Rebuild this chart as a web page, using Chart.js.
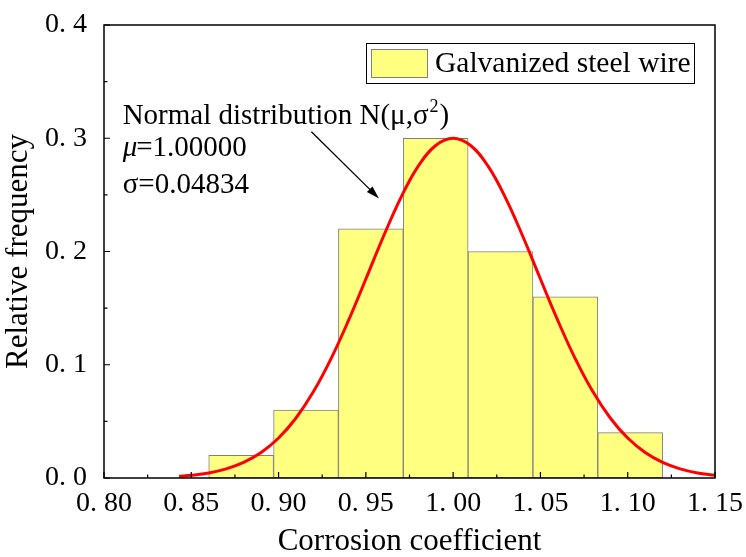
<!DOCTYPE html>
<html>
<head>
<meta charset="utf-8">
<script src="https://cdn.jsdelivr.net/npm/chart.js@4.4.0/dist/chart.umd.min.js"></script>
<style>
body { margin: 0; background: #fff; }
</style>
</head>
<body>
<canvas id="mainChart" width="746" height="557"></canvas>
<script>
var FONT = "'Liberation Serif', 'Times New Roman', serif";

// histogram: bin centres and relative frequency
var binCenters = [0.87857, 0.91571, 0.95286, 0.99, 1.02714, 1.06429, 1.10143];
var relFreq = [0.02, 0.06, 0.22, 0.30, 0.20, 0.16, 0.04];

// red normal curve
var curveX = [0.843, 0.85, 0.86, 0.87, 0.88, 0.89, 0.90, 0.91, 0.92, 0.93, 0.94, 0.95, 0.96, 0.97, 0.98, 0.99, 1.00,
              1.01, 1.02, 1.03, 1.04, 1.05, 1.06, 1.07, 1.08, 1.09, 1.10, 1.11, 1.12, 1.13, 1.14, 1.15];
var curveY = [0.0015, 0.0024, 0.0045, 0.0081, 0.0138, 0.0225, 0.0353, 0.0530, 0.0763, 0.1052, 0.1389, 0.1757, 0.2130, 0.2474, 0.2754, 0.2936, 0.3000,
              0.2936, 0.2754, 0.2474, 0.2130, 0.1757, 0.1389, 0.1052, 0.0763, 0.0530, 0.0353, 0.0225, 0.0138, 0.0081, 0.0045, 0.0024];

var seriesName = 'Galvanized steel wire';
var noteTitle = 'Normal distribution N(\u03bc,\u03c3';
var noteMu = '=1.00000';
var noteSigma = '\u03c3=0.04834';

// axis ticks: frame + inward major/minor ticks
var frameTicks = {
    id: 'frameTicks',
    afterDraw: function(chart) {
        var ctx = chart.ctx, a = chart.chartArea;
        var xs = chart.scales.x, ys = chart.scales.y;
        ctx.save();
        ctx.strokeStyle = '#000';
        ctx.lineWidth = 1.5;
        ctx.strokeRect(a.left, a.top, a.right - a.left, a.bottom - a.top);
        ctx.lineWidth = 1.2;
        ctx.beginPath();
        for (var v = 0.8; v <= 1.1501; v += 0.025) {
            var px = xs.getPixelForValue(v);
            var major = Math.abs(Math.round(v / 0.05) * 0.05 - v) < 1e-6;
            ctx.moveTo(px, a.bottom);
            ctx.lineTo(px, a.bottom - (major ? 6 : 3.5));
        }
        for (var w = 0; w <= 0.4001; w += 0.05) {
            var py = ys.getPixelForValue(w);
            var maj = Math.abs(Math.round(w / 0.1) * 0.1 - w) < 1e-6;
            ctx.moveTo(a.left, py);
            ctx.lineTo(a.left + (maj ? 6 : 3.5), py);
        }
        ctx.stroke();
        ctx.restore();
    }
};

// legend box inside the plot
var boxLegend = {
    id: 'boxLegend',
    afterDraw: function(chart) {
        var ctx = chart.ctx, a = chart.chartArea;
        var ds = chart.data.datasets[1];
        var right = a.right - 21, left = right - 328, top = 43, h = 40;
        ctx.save();
        ctx.fillStyle = '#fff';
        ctx.fillRect(left, top, right - left, h);
        ctx.strokeStyle = '#000';
        ctx.lineWidth = 1;
        ctx.strokeRect(left + 0.5, top + 0.5, right - left, h);
        ctx.fillStyle = ds.backgroundColor;
        ctx.fillRect(left + 5, top + 6, 56, 28);
        ctx.strokeStyle = ds.borderColor;
        ctx.strokeRect(left + 5.5, top + 6.5, 56, 28);
        ctx.fillStyle = '#000';
        ctx.font = '29.5px ' + FONT;
        ctx.textBaseline = 'middle';
        ctx.fillText(ds.label, left + 69, top + h / 2 + 1);
        ctx.restore();
    }
};

// fit note and arrow
var fitNote = {
    id: 'fitNote',
    afterDraw: function(chart) {
        var ctx = chart.ctx;
        var xs = chart.scales.x, ys = chart.scales.y;
        var x0 = xs.getPixelForValue(0.8107);
        ctx.save();
        ctx.fillStyle = '#000';
        ctx.textBaseline = 'alphabetic';
        ctx.font = '29px ' + FONT;
        var y1 = ys.getPixelForValue(0.3124);
        ctx.fillText(noteTitle, x0, y1);
        var w1 = ctx.measureText(noteTitle).width;
        ctx.font = '18px ' + FONT;
        ctx.fillText('2', x0 + w1 + 1, y1 - 12);
        var w2 = ctx.measureText('2').width;
        ctx.font = '29px ' + FONT;
        ctx.fillText(')', x0 + w1 + w2 + 2, y1);

        var y2 = ys.getPixelForValue(0.2843);
        ctx.font = 'italic 29px ' + FONT;
        ctx.fillText('\u03bc', x0, y2);
        var wm = ctx.measureText('\u03bc').width;
        ctx.font = '29px ' + FONT;
        ctx.fillText(noteMu, x0 + wm - 1, y2);

        var y3 = ys.getPixelForValue(0.2516);
        ctx.fillText(noteSigma, x0, y3);

        // arrow
        var ax = xs.getPixelForValue(0.9188), ay = ys.getPixelForValue(0.3057);
        var bx = xs.getPixelForValue(0.9575), by = ys.getPixelForValue(0.2469);
        var ang = Math.atan2(by - ay, bx - ax);
        ctx.strokeStyle = '#000';
        ctx.lineWidth = 1.3;
        ctx.beginPath();
        ctx.moveTo(ax, ay);
        ctx.lineTo(bx - 10 * Math.cos(ang), by - 10 * Math.sin(ang));
        ctx.stroke();
        ctx.beginPath();
        ctx.moveTo(bx, by);
        ctx.lineTo(bx - 13 * Math.cos(ang) + 4 * Math.sin(ang), by - 13 * Math.sin(ang) - 4 * Math.cos(ang));
        ctx.lineTo(bx - 13 * Math.cos(ang) - 4 * Math.sin(ang), by - 13 * Math.sin(ang) + 4 * Math.cos(ang));
        ctx.closePath();
        ctx.fill();
        ctx.restore();
    }
};

var ctx = document.getElementById('mainChart').getContext('2d');
var chart = new Chart(ctx, {
    type: 'bar',
    data: {
        datasets: [{
            type: 'line',
            label: 'Normal distribution',
            data: curveX.map(function(x, i) { return { x: x, y: curveY[i] }; }),
            borderColor: '#FF0000',
            borderWidth: 3,
            pointRadius: 0,
            tension: 0.4,
            fill: false,
            order: 0
        }, {
            type: 'bar',
            label: seriesName,
            data: binCenters.map(function(x, i) { return { x: x, y: relFreq[i] }; }),
            backgroundColor: '#FFFF80',
            borderColor: '#808080',
            borderWidth: 1,
            borderSkipped: false,
            barPercentage: 1,
            categoryPercentage: 1,
            grouped: false,
            order: 1
        }]
    },
    options: {
        responsive: false,
        animation: false,
        layout: { padding: { top: 25, right: 31, left: 0, bottom: 0 } },
        plugins: {
            legend: { display: false },
            tooltip: { enabled: false }
        },
        scales: {
            x: {
                type: 'linear',
                offset: false,
                min: 0.8,
                max: 1.15,
                grid: { display: false, drawTicks: false, offset: false },
                border: { display: false },
                ticks: {
                    stepSize: 0.05,
                    autoSkip: false,
                    maxRotation: 0,
                    padding: 9,
                    color: '#000',
                    font: { family: FONT, size: 28 },
                    callback: function(v) { return v.toFixed(2).replace('.', '. '); }
                },
                title: {
                    display: true,
                    text: 'Corrosion coefficient',
                    color: '#000',
                    font: { family: FONT, size: 31 },
                    padding: { top: 0, bottom: -3 }
                },
                afterFit: function(s) { s.height = 79; s.paddingLeft = 0; s.paddingRight = 0; }
            },
            y: {
                min: 0,
                max: 0.4,
                grid: { display: false, drawTicks: false },
                border: { display: false },
                ticks: {
                    stepSize: 0.1,
                    padding: 17,
                    color: '#000',
                    font: { family: FONT, size: 28 },
                    callback: function(v) { return v.toFixed(1).replace('.', '. '); }
                },
                title: {
                    display: true,
                    text: 'Relative frequency',
                    color: '#000',
                    font: { family: FONT, size: 31 },
                    padding: 0
                },
                afterFit: function(s) { s.width = 104; s.paddingTop = 0; s.paddingBottom = 0; }
            }
        }
    },
    plugins: [frameTicks, boxLegend, fitNote]
});
</script>
</body>
</html>
